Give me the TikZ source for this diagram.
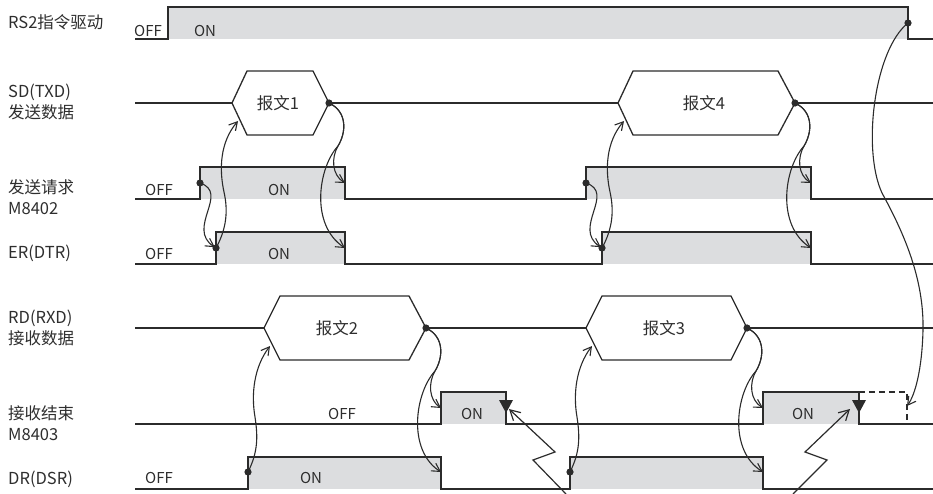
\documentclass[tikz,border=0pt]{standalone}
\usepackage{fontspec}
\setmainfont{Noto Sans CJK SC}
\usetikzlibrary{arrows.meta}
\definecolor{linegray}{HTML}{2B2B2B}
\definecolor{ongray}{HTML}{DCDDDF}
\definecolor{textgray}{HTML}{2E2E2E}

\begin{document}
\begin{tikzpicture}[
  x=1pt, y=-1pt,
  wave/.style={draw=linegray, line width=1.3pt},
  onfill/.style={fill=ongray},
  link/.style={draw=linegray, line width=1.1pt, -{Straight Barb[length=8pt, width=9pt]}},
  zigzag/.style={draw=linegray, line width=1.2pt, -{Straight Barb[length=10pt, width=11pt]}},
  lbl/.style={anchor=west, align=left, inner sep=0pt, text=textgray,
              font=\fontsize{16.5}{21}\selectfont},
  msglbl/.style={inner sep=0pt, text=textgray, font=\fontsize{16.5}{18}\selectfont},
  statelbl/.style={inner sep=0pt, text=textgray, font=\fontsize{15}{17}\selectfont}
]
\useasboundingbox (0,0) rectangle (933,494);

% signal names
\node[lbl] (lblRS) at (8,22) {RS2指令驱动};
\node[lbl] (lblSD) at (8,102) {SD(TXD)\\发送数据};
\node[lbl] (lblReq) at (8,197) {发送请求\\M8402};
\node[lbl] (lblER) at (8,253) {ER(DTR)};
\node[lbl] (lblRD) at (8,328) {RD(RXD)\\接收数据};
\node[lbl] (lblRx) at (8,423) {接收结束\\M8403};
\node[lbl] (lblDR) at (8,479) {DR(DSR)};

% RS2
\fill[onfill] (168,7) rectangle (908,39);
\draw[wave] (135,39) -| (168,7) -| (908,39) -- (933,39);

% SD(TXD)
\draw[wave] (135,103) -- (232,103);
\draw[wave] (232,103) -- (247,71) -- (313,71) -- (329,103) -- (313,135) -- (247,135) -- cycle;
\draw[wave] (329,103) -- (618,103);
\draw[wave] (618,103) -- (633,71) -- (778,71) -- (795,103) -- (778,135) -- (633,135) -- cycle;
\draw[wave] (795,103) -- (933,103);

% M8402
\fill[onfill] (200,167) rectangle (345,199);
\fill[onfill] (586,167) rectangle (811,199);
\draw[wave] (135,199) -| (200,167) -| (345,199) -| (586,167) -| (811,199) -- (933,199);

% ER(DTR)
\fill[onfill] (216,232) rectangle (345,264);
\fill[onfill] (602,232) rectangle (811,264);
\draw[wave] (135,264) -| (216,232) -| (345,264) -| (602,232) -| (811,264) -- (933,264);

% RD(RXD)
\draw[wave] (135,328) -- (264,328);
\draw[wave] (264,328) -- (280,296) -- (409,296) -- (426,328) -- (409,360) -- (280,360) -- cycle;
\draw[wave] (426,328) -- (586,328);
\draw[wave] (586,328) -- (602,296) -- (731,296) -- (747,328) -- (731,360) -- (602,360) -- cycle;
\draw[wave] (747,328) -- (933,328);

% M8403
\fill[onfill] (441,392) rectangle (506,424);
\fill[onfill] (763,392) rectangle (859,424);
\draw[wave] (135,424) -| (441,392) -| (506,424) -| (763,392) -| (859,424) -- (933,424);
\draw[wave, dashed, dash pattern=on 6pt off 4pt] (859,392) -- (907,392) -- (907,424);
\fill[linegray] (499,400) -- (513,400) -- (506,413) -- cycle;
\fill[linegray] (852,400) -- (866,400) -- (859,413) -- cycle;

% DR(DSR)
\fill[onfill] (248,457) rectangle (441,489);
\fill[onfill] (570,457) rectangle (763,489);
\draw[wave] (135,489) -| (248,457) -| (441,489) -| (570,457) -| (763,489) -- (933,489);

% states and frames
\node[statelbl] (offRS) at (148,31) {OFF};
\node[statelbl] (onRS) at (205,31) {ON};
\node[statelbl] (offReq) at (159,190) {OFF};
\node[statelbl] (onReq) at (279,190) {ON};
\node[statelbl] (offER) at (159,254) {OFF};
\node[statelbl] (onER) at (279,254) {ON};
\node[statelbl] (offRx) at (342,414) {OFF};
\node[statelbl] (onRx1) at (472,414) {ON};
\node[statelbl] (onRx2) at (803,414) {ON};
\node[statelbl] (offDR) at (159,478) {OFF};
\node[statelbl] (onDR) at (311,478) {ON};
\node[msglbl] (msg1) at (278,103) {报文1};
\node[msglbl] (msg4) at (704,103) {报文4};
\node[msglbl] (msg2) at (337,328) {报文2};
\node[msglbl] (msg3) at (664,328) {报文3};

% event points
\coordinate (rsOff) at (908,23);
\coordinate (m1in) at (238,121);
\coordinate (m1out) at (329,103);
\coordinate (m4in) at (624,121);
\coordinate (m4out) at (795,103);
\coordinate (req1on) at (200,183);
\coordinate (req1off) at (345,183);
\coordinate (req2on) at (586,183);
\coordinate (req2off) at (811,183);
\coordinate (er1on) at (216,248);
\coordinate (er1off) at (345,248);
\coordinate (er2on) at (602,248);
\coordinate (er2off) at (811,248);
\coordinate (m2in) at (270,346);
\coordinate (m2out) at (426,328);
\coordinate (m3in) at (592,346);
\coordinate (m3out) at (747,328);
\coordinate (rx1on) at (441,408);
\coordinate (rx1off) at (509,409);
\coordinate (rx2on) at (763,408);
\coordinate (rx2off) at (850,409);
\coordinate (rxEnd) at (907,406);
\coordinate (dr1on) at (248,472);
\coordinate (dr1off) at (441,472);
\coordinate (dr2on) at (570,472);
\coordinate (dr2off) at (763,472);
\coordinate (zig1) at (566,494);
\coordinate (zig2) at (793,494);

% send side
\draw[link, shorten >=1.5pt] (req1on) .. controls (230,193) and (186,228) .. (er1on);
\draw[link] (er1on) .. controls (227,228) and (228,210) .. (224,192)
  .. controls (219,169) and (220,142) .. (m1in);
\draw[link] (m1out) .. controls (348,112) and (346,133) .. (338,146)
  .. controls (331,158) and (332,175) .. (req1off);
\draw[link] (m1out) .. controls (348,112) and (346,133) .. (338,146)
  .. controls (318,168) and (310,225) .. (er1off);

\draw[link, shorten >=1.5pt] (req2on) .. controls (616,193) and (572,228) .. (er2on);
\draw[link] (er2on) .. controls (613,228) and (614,210) .. (610,192)
  .. controls (605,169) and (606,142) .. (m4in);
\draw[link] (m4out) .. controls (814,112) and (812,133) .. (804,146)
  .. controls (797,158) and (798,175) .. (req2off);
\draw[link] (m4out) .. controls (814,112) and (812,133) .. (804,146)
  .. controls (784,168) and (776,225) .. (er2off);

% receive side
\draw[link] (dr1on) .. controls (258,452) and (258,437) .. (255,417)
  .. controls (251,394) and (254,367) .. (m2in);
\draw[link] (m2out) .. controls (445,337) and (443,358) .. (435,371)
  .. controls (428,383) and (429,400) .. (rx1on);
\draw[link] (m2out) .. controls (445,337) and (443,358) .. (435,371)
  .. controls (415,393) and (407,450) .. (dr1off);

\draw[link] (dr2on) .. controls (580,452) and (580,437) .. (577,417)
  .. controls (573,394) and (576,367) .. (m3in);
\draw[link] (m3out) .. controls (766,337) and (764,358) .. (756,371)
  .. controls (749,383) and (750,400) .. (rx2on);
\draw[link] (m3out) .. controls (766,337) and (764,358) .. (756,371)
  .. controls (736,393) and (728,450) .. (dr2off);

% RS2 off ends the receive flag
\draw[link] (rsOff) .. controls (874,50) and (862,150) .. (882,193)
  .. controls (905,235) and (924,280) .. (923,330)
  .. controls (922,370) and (915,395) .. (rxEnd);

\draw[zigzag] (zig1) -- (533,460) -- (555,452) -- (rx1off);
\draw[zigzag] (zig2) -- (827,460) -- (805,452) -- (rx2off);

% dots
\foreach \p in {rsOff, m1out, m4out, req1on, er1on, req2on, er2on,
                m2out, m3out, dr1on, dr2on}
  \fill[linegray] (\p) circle (3.6pt);
\end{tikzpicture}
\end{document}
